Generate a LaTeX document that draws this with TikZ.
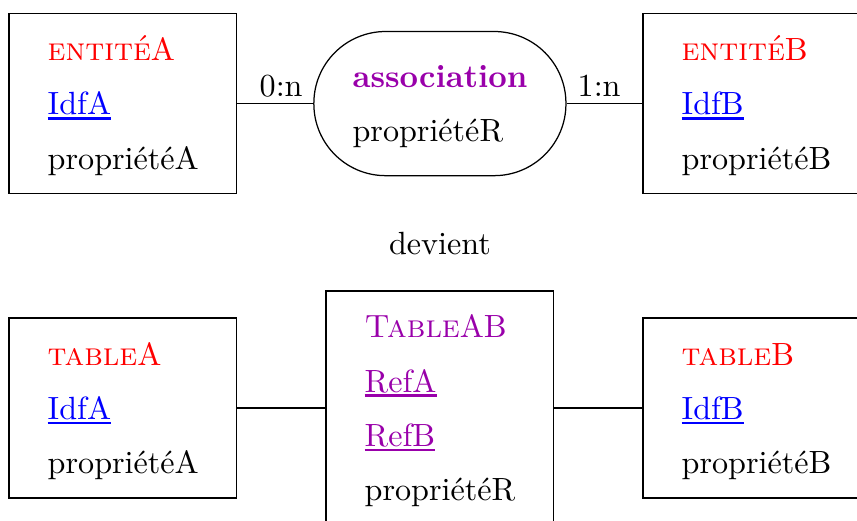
\documentclass[tikz,border=0pt]{standalone}
\usepackage{xcolor}
\usepackage{tikz}
\definecolor{violetasso}{RGB}{153,0,170}
\newsavebox{\boitecle}
\newcommand{\titre}[2]{\leavevmode{\color{#1}\rule{0pt}{9.2pt}#2}}
\newcommand{\souligne}[2]{\leavevmode{\color{#1}\sbox{\boitecle}{#2}\rlap{\rule[-1.5pt]{\wd\boitecle}{0.8pt}}\usebox{\boitecle}}}

\begin{document}
\fontsize{10.3pt}{12.4pt}\selectfont
\begin{tikzpicture}[x=1pt,y=1pt,
	entite/.style={draw,align=left,text width=48pt,inner xsep=12.4pt,minimum width=72.8pt,minimum height=57.7pt},
	asso/.style={draw,rounded corners=23pt,align=left,text width=56pt,inner xsep=0pt,minimum width=80.8pt,minimum height=46.2pt},
	table/.style={entite,minimum height=75pt},
	card/.style={above,inner sep=2pt}]
	 \useasboundingbox (0,0) rectangle (274.7,-166.7);
	 % MCD
	 \node[entite] (entiteA) at (39.3,-33.2)
	   {\titre{red}{\textsc{entité}A}\\[5pt]\souligne{blue}{IdfA}\\[5pt]propriétéA};
	 \node[asso] (asso) at (141,-33.2)
	   {\titre{violetasso}{\textbf{association}}\\[5pt]propriétéR};
	 \node[entite] (entiteB) at (242.5,-33.2)
	   {\titre{red}{\textsc{entité}B}\\[5pt]\souligne{blue}{IdfB}\\[5pt]propriétéB};
	 \draw (entiteA) -- node[card,pos=0.58]{0:n} (asso);
	 \draw (asso) -- node[card,pos=0.43]{1:n} (entiteB);
	 \node (devient) at (141,-78.2) {devient};
	 % MLD
	 \node[entite] (tableA) at (39.3,-130.8)
	   {\titre{red}{\textsc{table}A}\\[5pt]\souligne{blue}{IdfA}\\[5pt]propriétéA};
	 \node[table] (tableAB) at (140.9,-130.8)
	   {\titre{violetasso}{\textsc{Table}AB}\\[5pt]\souligne{violetasso}{RefA}\\[5pt]\souligne{violetasso}{RefB}\\[5pt]propriétéR};
	 \node[entite] (tableB) at (242.5,-130.8)
	   {\titre{red}{\textsc{table}B}\\[5pt]\souligne{blue}{IdfB}\\[5pt]propriétéB};
	 \draw (tableA) -- (tableAB);
	 \draw (tableAB) -- (tableB);
\end{tikzpicture}
\end{document}
